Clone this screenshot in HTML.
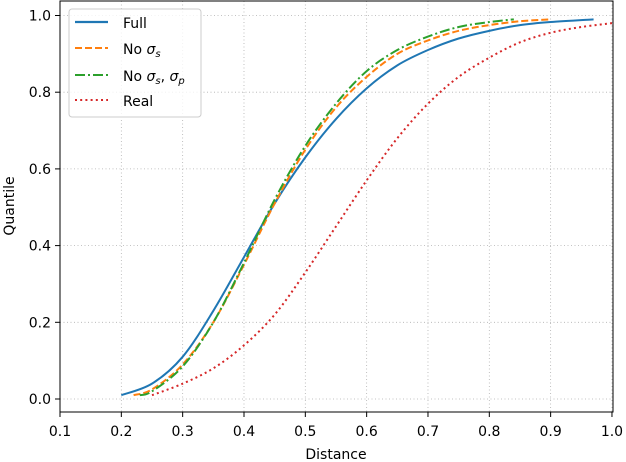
<!DOCTYPE html>
<html><head><meta charset="utf-8"><style>
html,body{margin:0;padding:0;background:#fff;}
svg{display:block;font-family:"DejaVu Sans","Liberation Sans",sans-serif;}
</style></head><body>
<svg id="chart" width="626" height="462" xmlns="http://www.w3.org/2000/svg">
<g id="grid"></g>
<g id="series"></g>
<rect x="60" y="1" width="553" height="411" fill="none" stroke="#000" stroke-width="1"/>
<g id="xticks"></g>
<g id="yticks"></g>
<text x="336" y="459" font-size="14" text-anchor="middle">Distance</text>
<text x="14" y="206" font-size="14" text-anchor="middle" transform="rotate(-90 14 206)">Quantile</text>
<g>
<rect x="69" y="9" width="132" height="108" rx="3" fill="#fff" fill-opacity="0.8" stroke="#ccc"/>
<g><line x1="75" y1="22" x2="108" y2="22" stroke="#1f77b4" stroke-width="2.2"/><text x="123" y="28" font-size="14">Full</text></g>
<g><line x1="75" y1="48" x2="108" y2="48" stroke="#ff7f0e" stroke-width="2" stroke-dasharray="7,3"/><text x="123" y="54" font-size="14">No <tspan font-style="italic">σ</tspan><tspan font-style="italic" font-size="10" dy="3">s</tspan></text></g>
<g><line x1="75" y1="75" x2="108" y2="75" stroke="#2ca02c" stroke-width="2" stroke-dasharray="10,3,2,3"/><text x="123" y="81" font-size="14">No <tspan font-style="italic">σ</tspan><tspan font-style="italic" font-size="10" dy="3">s</tspan><tspan dy="-3">, </tspan><tspan font-style="italic">σ</tspan><tspan font-style="italic" font-size="10" dy="3">p</tspan></text></g>
<g><line x1="75" y1="100" x2="108" y2="100" stroke="#d62728" stroke-width="2" stroke-dasharray="2,3.2"/><text x="123" y="106" font-size="14">Real</text></g>
</g>
</svg>
<script>
const xTicks=[0.1,0.2,0.3,0.4,0.5,0.6,0.7,0.8,0.9,1.0];
const yTicks=[0.0,0.2,0.4,0.6,0.8,1.0];
const fullX=[0.2,0.25,0.3,0.35,0.4,0.45,0.5,0.55,0.6,0.65,0.7,0.75,0.8,0.85,0.9,0.97];
const fullY=[0.01,0.04,0.11,0.23,0.37,0.51,0.63,0.73,0.81,0.87,0.91,0.94,0.96,0.975,0.983,0.99];
const noSX=[0.22,0.25,0.3,0.35,0.4,0.45,0.5,0.55,0.6,0.65,0.7,0.75,0.8,0.85,0.9];
const noSY=[0.01,0.025,0.09,0.2,0.35,0.51,0.65,0.76,0.84,0.9,0.935,0.96,0.975,0.985,0.99];
const noSPX=[0.23,0.25,0.3,0.35,0.4,0.45,0.5,0.55,0.6,0.65,0.7,0.75,0.8,0.84];
const noSPY=[0.01,0.02,0.085,0.2,0.355,0.52,0.66,0.77,0.855,0.91,0.945,0.97,0.983,0.99];
const realX=[0.25,0.3,0.35,0.4,0.45,0.5,0.55,0.6,0.65,0.7,0.75,0.8,0.85,0.9,0.95,1.0];
const realY=[0.01,0.04,0.08,0.14,0.22,0.33,0.45,0.57,0.68,0.77,0.84,0.89,0.93,0.955,0.97,0.98];
const NS='http://www.w3.org/2000/svg';
const sx=v=>60+(v-0.1)*613.3/1.0;
const sy=v=>399-v*383.5;
function mk(tag,attrs,parent){const e=document.createElementNS(NS,tag);for(const k in attrs)e.setAttribute(k,attrs[k]);parent.appendChild(e);return e;}
const grid=document.getElementById('grid'),xt=document.getElementById('xticks'),yt=document.getElementById('yticks');
xTicks.forEach(t=>{
 const x=sx(t);
 const g=mk('line',{x1:x,y1:1,x2:x,y2:412,stroke:'#b0b0b0','stroke-width':0.8,'stroke-dasharray':'1,2.5'},grid);
 
 
 const tk=mk('line',{x1:x,y1:412,x2:x,y2:417,stroke:'#000'},xt);
 
 
 const tx=mk('text',{x:x,y:436,'font-size':14,'text-anchor':'middle'},xt);
 tx.textContent=t.toFixed(1);
 
 
});
yTicks.forEach(t=>{
 const y=sy(t);
 const g=mk('line',{x1:60,y1:y,x2:613,y2:y,stroke:'#b0b0b0','stroke-width':0.8,'stroke-dasharray':'1,2.5'},grid);
 
 
 const tk=mk('line',{x1:55,y1:y,x2:60,y2:y,stroke:'#000'},yt);
 
 
 const tx=mk('text',{x:51,y:y+5,'font-size':14,'text-anchor':'end'},yt);
 tx.textContent=t.toFixed(1);
 
 
});
function pathD(X,Y){
 const p=X.map((x,i)=>[sx(x),sy(Y[i])]);
 let d='M'+p[0][0]+','+p[0][1];
 for(let i=0;i<p.length-1;i++){
  const p0=p[i-1]||p[i],p1=p[i],p2=p[i+1],p3=p[i+2]||p2;
  const c1=[p1[0]+(p2[0]-p0[0])/6,p1[1]+(p2[1]-p0[1])/6];
  const c2=[p2[0]-(p3[0]-p1[0])/6,p2[1]-(p3[1]-p1[1])/6];
  d+=' C'+c1+' '+c2+' '+p2;
 }
 return d;
}
const ser=document.getElementById('series');
const s1=mk('path',{d:pathD(realX,realY),fill:'none',stroke:'#d62728','stroke-width':2,'stroke-dasharray':'2,3.2'},ser);


const s2=mk('path',{d:pathD(fullX,fullY),fill:'none',stroke:'#1f77b4','stroke-width':2},ser);


const s3=mk('path',{d:pathD(noSX,noSY),fill:'none',stroke:'#ff7f0e','stroke-width':2,'stroke-dasharray':'7,3'},ser);


const s4=mk('path',{d:pathD(noSPX,noSPY),fill:'none',stroke:'#2ca02c','stroke-width':2,'stroke-dasharray':'10,3,2,3'},ser);


</script>
</body></html>
